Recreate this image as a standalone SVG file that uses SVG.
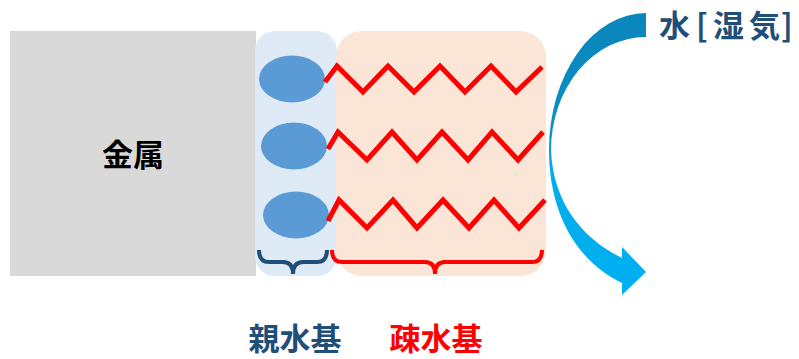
<svg xmlns="http://www.w3.org/2000/svg" width="799" height="359" viewBox="0 0 799 359">
<defs>
<linearGradient id="arrowGrad" gradientUnits="userSpaceOnUse" x1="0" y1="13" x2="0" y2="295">
<stop offset="0" stop-color="#0a86bb"/>
<stop offset="0.42" stop-color="#0a8fc6"/>
<stop offset="0.55" stop-color="#00acec"/>
<stop offset="1" stop-color="#00b0f0"/>
</linearGradient>
</defs>
<style>
.zig{fill:none;stroke:#ff0000;stroke-width:5;stroke-linejoin:miter}
.head{fill:#5b9bd5}
.lbl{font-family:"Noto Sans CJK JP","Liberation Sans",sans-serif;font-weight:bold}
.brace{fill:none;stroke-width:4;stroke-linecap:butt}
</style>
<g id="metal">
<rect x="10" y="31" width="246" height="245" fill="#d9d9d9"/>
<text class="lbl" x="133" y="166" font-size="31" text-anchor="middle" fill="#000">金属</text>
</g>
<g id="hydrophilic-zone">
<rect x="255" y="31" width="82" height="245" rx="20" fill="#deebf7"/>
</g>
<g id="hydrophobic-zone">
<rect x="336" y="31" width="210" height="245" rx="26" fill="#fbe5d6"/>
</g>
<g id="heads">
<ellipse class="head" cx="292" cy="79" rx="33" ry="23.5"/>
<ellipse class="head" cx="294" cy="146" rx="33" ry="23.5"/>
<ellipse class="head" cx="296" cy="215" rx="33" ry="23.5"/>
</g>
<g id="connectors">
<polyline class="zig" points="325,82 337,66 363,92 388,66 414,92 440,66 465,92 491,66 516,92 542,67"/>
<polyline class="zig" points="328,149 338,132 367,160 392,132 417,160 442,132 468,160 492,132 518,160 543,132"/>
<polyline class="zig" points="328,221 339,200 367,228 393,200 417,228 443,200 469,228 494,200 519,228 545,200"/>
</g>
<g id="brace-hydrophilic">
<path class="brace" stroke="#1f4e79" d="M259,250 Q259,262 269,262 L283,262 Q293,262 293,274 Q293,262 303,262 L317,262 Q327,262 327,250"/>
</g>
<g id="brace-hydrophobic">
<path class="brace" stroke="#ff0000" d="M332,250 Q332,262 342,262 L425,262 Q435,262 435,274 Q435,262 445,262 L532,262 Q542,262 542,250"/>
</g>
<g id="water-arrow">
<path fill="url(#arrowGrad)" d="M646,13 A97,137 0 0 0 549,150 C549,215 578,262 622,283 L622,295 L646,272 L622,247 L622,258 C585,240 553,205 551,150 A95,113 0 0 1 646,37 Z"/>
</g>
<g id="water-label">
<text class="lbl" y="37" font-size="31" fill="#1f4e79"><tspan x="659">水</tspan><tspan x="696">[</tspan><tspan x="713">湿</tspan><tspan x="749">気</tspan><tspan x="781">]</tspan></text>
</g>
<g id="label-hydrophilic">
<text class="lbl" x="295" y="350" font-size="31" text-anchor="middle" fill="#1f4e79">親水基</text>
</g>
<g id="label-hydrophobic">
<text class="lbl" x="436" y="350" font-size="31" text-anchor="middle" fill="#ff0000">疎水基</text>
</g>
</svg>
